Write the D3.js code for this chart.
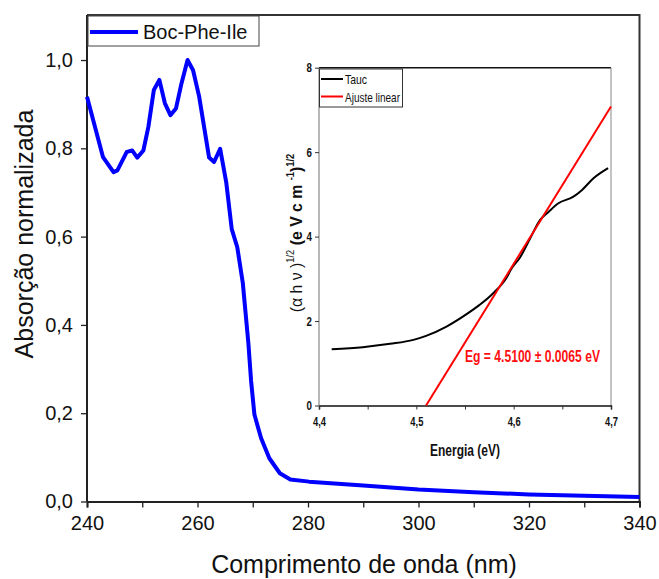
<!DOCTYPE html>
<html><head><meta charset="utf-8">
<script src="https://cdn.jsdelivr.net/npm/d3@7"></script>
<style>
body{margin:0;background:#fff;}
svg{display:block;}
.main text{font-family:"Liberation Sans",Arial,sans-serif;fill:#111;}
.inset text{font-family:"Liberation Sans Narrow","Liberation Sans",Arial,sans-serif;fill:#111;}
</style></head>
<body>
<script>
// Main spectrum
const wavelength = [240,242.9,244.8,245.5,247.2,248.2,249.1,250.2,251.1,252.1,253.1,254.1,255.1,256.1,257.1,258.2,259.2,260.3,261.2,262.1,263.0,264.1,265.2,266.2,267.2,268.2,269.2,269.7,270.3,271.5,273,274.9,276.8,280.2,290,300,310,320,330,340];
const absorbance = [0.917,0.780,0.746,0.750,0.792,0.795,0.779,0.795,0.848,0.932,0.955,0.902,0.875,0.890,0.947,1.0,0.977,0.917,0.848,0.779,0.769,0.799,0.723,0.617,0.576,0.495,0.360,0.273,0.197,0.144,0.098,0.064,0.050,0.045,0.036,0.027,0.021,0.016,0.013,0.010];
const xTicksMain = [240,260,280,300,320,340];
const yTicksMain = [0,0.2,0.4,0.6,0.8,1.0];
// Inset Tauc plot
const energy = [4.413,4.445,4.473,4.497,4.510,4.531,4.552,4.565,4.579,4.593,4.598,4.606,4.617,4.627,4.636,4.646,4.661,4.670,4.682,4.697];
const tauc =   [1.333,1.381,1.46,1.554,1.649,1.870,2.17,2.383,2.659,3.037,3.25,3.487,3.96,4.39,4.59,4.79,4.94,5.10,5.38,5.62];
const fitEnergy = [4.51,4.70];
const fitTauc = [0,7.08];
const xTicksInset = [4.4,4.5,4.6,4.7];
const yTicksInset = [0,2,4,6,8];

const W=659,H=579;
const svg=d3.select("body").append("svg").attr("width",W).attr("height",H);
svg.append("rect").attr("width",W).attr("height",H).attr("fill","#fff");
const fmt = d=>d3.format(".1f")(d).replace(".",",");
function fitWidth(sel,w){sel.attr("lengthAdjust","spacingAndGlyphs").attr("textLength",w);}
function condense(sel,f){sel.each(function(){const L=this.getComputedTextLength(); if(L>0){this.setAttribute("lengthAdjust","spacingAndGlyphs");this.setAttribute("textLength",L*f);}});}

// ---------- main ----------
const g=svg.append("g").attr("class","main");
const x=d3.scaleLinear().domain([240,340]).range([87,639.5]);
const y=d3.scaleLinear().domain([0,1.102]).range([501.5,15]);

g.append("path").attr("d",`M${x(240)},${y(1.102)}H${x(340)}V${y(0)}`).attr("fill","none").attr("stroke","#333").attr("stroke-width",2);

const xAx=d3.axisBottom(x).tickValues(d3.range(240,341,10)).tickSize(6).tickFormat(d=>xTicksMain.includes(d)?d:"");
const gx=g.append("g").attr("transform",`translate(0,${y(0)})`).call(xAx);
gx.select(".domain").attr("stroke","#222").attr("stroke-width",2);
gx.selectAll(".tick line").attr("stroke","#222").attr("stroke-width",1.3);
gx.selectAll("text").attr("font-size",20).attr("font-family","Liberation Sans, Arial, sans-serif").attr("y",11).attr("dy","0.85em");

const yAx=d3.axisLeft(y).tickValues(yTicksMain).tickSize(6).tickFormat(fmt);
const gy=g.append("g").attr("transform",`translate(${x(240)},0)`).call(yAx);
gy.select(".domain").attr("d",`M0,${y(0)}V${y(1.102)}`).attr("stroke","#222").attr("stroke-width",2);
gy.selectAll(".tick line").attr("stroke","#222").attr("stroke-width",1.3);
gy.selectAll("text").attr("font-size",20).attr("font-family","Liberation Sans, Arial, sans-serif").attr("x",-14);

g.append("path").datum(wavelength.map((w,i)=>[w,absorbance[i]]))
 .attr("d",d3.line().x(d=>x(d[0])).y(d=>y(d[1])))
 .attr("fill","none").attr("stroke","#0000ff").attr("stroke-width",4).attr("stroke-linejoin","round");

g.append("text").attr("x",364).attr("y",573).attr("text-anchor","middle").attr("font-size",25).text("Comprimento de onda (nm)");
g.append("text").attr("transform","translate(33,234) rotate(-90)").attr("text-anchor","middle").attr("font-size",25).text("Absorção normalizada");

// legend
g.append("rect").attr("x",88).attr("y",16).attr("width",171).attr("height",30).attr("fill","#fff").attr("stroke","#444").attr("stroke-width",1);
g.append("line").attr("x1",90).attr("x2",138).attr("y1",32).attr("y2",32).attr("stroke","#0000ff").attr("stroke-width",4);
g.append("text").attr("x",143).attr("y",39).attr("font-size",20).text("Boc-Phe-Ile");

// ---------- inset ----------
const gi=svg.append("g").attr("class","inset");
const xi=d3.scaleLinear().domain([4.4,4.7]).range([319,611]);
const yi=d3.scaleLinear().domain([0,8]).range([405.5,67.7]);

gi.append("line").attr("x1",xi(4.4)).attr("x2",xi(4.7)).attr("y1",yi(8)).attr("y2",yi(8)).attr("stroke","#111").attr("stroke-width",1.5);
gi.append("line").attr("x1",xi(4.7)).attr("x2",xi(4.7)).attr("y1",yi(8)).attr("y2",yi(0)).attr("stroke","#888").attr("stroke-width",1);

const xiAx=d3.axisBottom(xi).tickValues(d3.range(0,7).map(i=>4.4+i*0.05)).tickSize(4).tickFormat((d,i)=>i%2===0?fmt(d):"");
const gxi=gi.append("g").attr("transform",`translate(0,${yi(0)})`).call(xiAx);
gxi.select(".domain").attr("stroke","#111").attr("stroke-width",1.5);
gxi.selectAll(".tick line").attr("stroke","#333");
gxi.selectAll("text").attr("font-size",13).attr("font-weight","bold").attr("font-family","Liberation Sans Narrow, Liberation Sans, Arial, sans-serif").attr("fill","#222").attr("y",9).attr("dy","0.85em");
condense(gxi.selectAll("text"),0.72);

const yiAx=d3.axisLeft(yi).tickValues(yTicksInset).tickSize(4).tickFormat(d3.format("d"));
const gyi=gi.append("g").attr("transform",`translate(${xi(4.4)},0)`).call(yiAx);
gyi.select(".domain").attr("d",`M0,${yi(0)}V${yi(8)}`).attr("stroke","#888").attr("stroke-width",1.2);
gyi.selectAll(".tick line").attr("stroke","#333");
gyi.selectAll("text").attr("font-size",13).attr("font-weight","bold").attr("font-family","Liberation Sans Narrow, Liberation Sans, Arial, sans-serif").attr("fill","#222").attr("x",-7);
condense(gyi.selectAll("text"),0.75);

gi.append("path").datum(energy.map((e,i)=>[e,tauc[i]]))
 .attr("d",d3.line().x(d=>xi(d[0])).y(d=>yi(d[1])).curve(d3.curveMonotoneX))
 .attr("fill","none").attr("stroke","#000").attr("stroke-width",2);
gi.append("path").datum(fitEnergy.map((e,i)=>[e,fitTauc[i]]))
 .attr("d",d3.line().x(d=>xi(d[0])).y(d=>yi(d[1])))
 .attr("fill","none").attr("stroke","#ff0000").attr("stroke-width",2);

gi.append("text").attr("x",465).attr("y",362).attr("font-size",17).attr("font-weight","bold").style("fill","#ff1010").call(fitWidth,135).text("Eg = 4.5100 ± 0.0065 eV");
gi.append("text").attr("x",465).attr("y",456).attr("text-anchor","middle").attr("font-size",17).attr("font-weight","bold").call(fitWidth,70).text("Energia (eV)");

const yt=gi.append("text").attr("text-anchor","middle").attr("font-size",17).attr("font-weight","bold");
yt.append("tspan").attr("font-weight","normal").text("(α h ν )");
yt.append("tspan").attr("font-size",10).attr("font-weight","normal").attr("dy",-8).text("1/2");
yt.append("tspan").attr("dy",8).text(" (e V c m ");
yt.append("tspan").attr("font-size",10).attr("dy",-8).text("-1");
yt.append("tspan").attr("dy",8).text(")");
yt.append("tspan").attr("font-size",10).attr("dy",-8).text("1/2");
const ytw=yt.node().getBBox().width;
yt.attr("transform",`translate(302,233) rotate(-90) scale(${159/ytw},1)`);

// inset legend
gi.append("rect").attr("x",319.5).attr("y",69).attr("width",83).attr("height",38).attr("fill","#fff").attr("stroke","#333").attr("stroke-width",1);
gi.append("line").attr("x1",321).attr("x2",343).attr("y1",79).attr("y2",79).attr("stroke","#000").attr("stroke-width",2);
gi.append("text").attr("x",345).attr("y",84).attr("font-size",13).call(fitWidth,22).text("Tauc");
gi.append("line").attr("x1",321).attr("x2",343).attr("y1",96.5).attr("y2",96.5).attr("stroke","#ff0000").attr("stroke-width",2);
gi.append("text").attr("x",345).attr("y",101.5).attr("font-size",13).call(fitWidth,55).text("Ajuste linear");
</script>
</body></html>
